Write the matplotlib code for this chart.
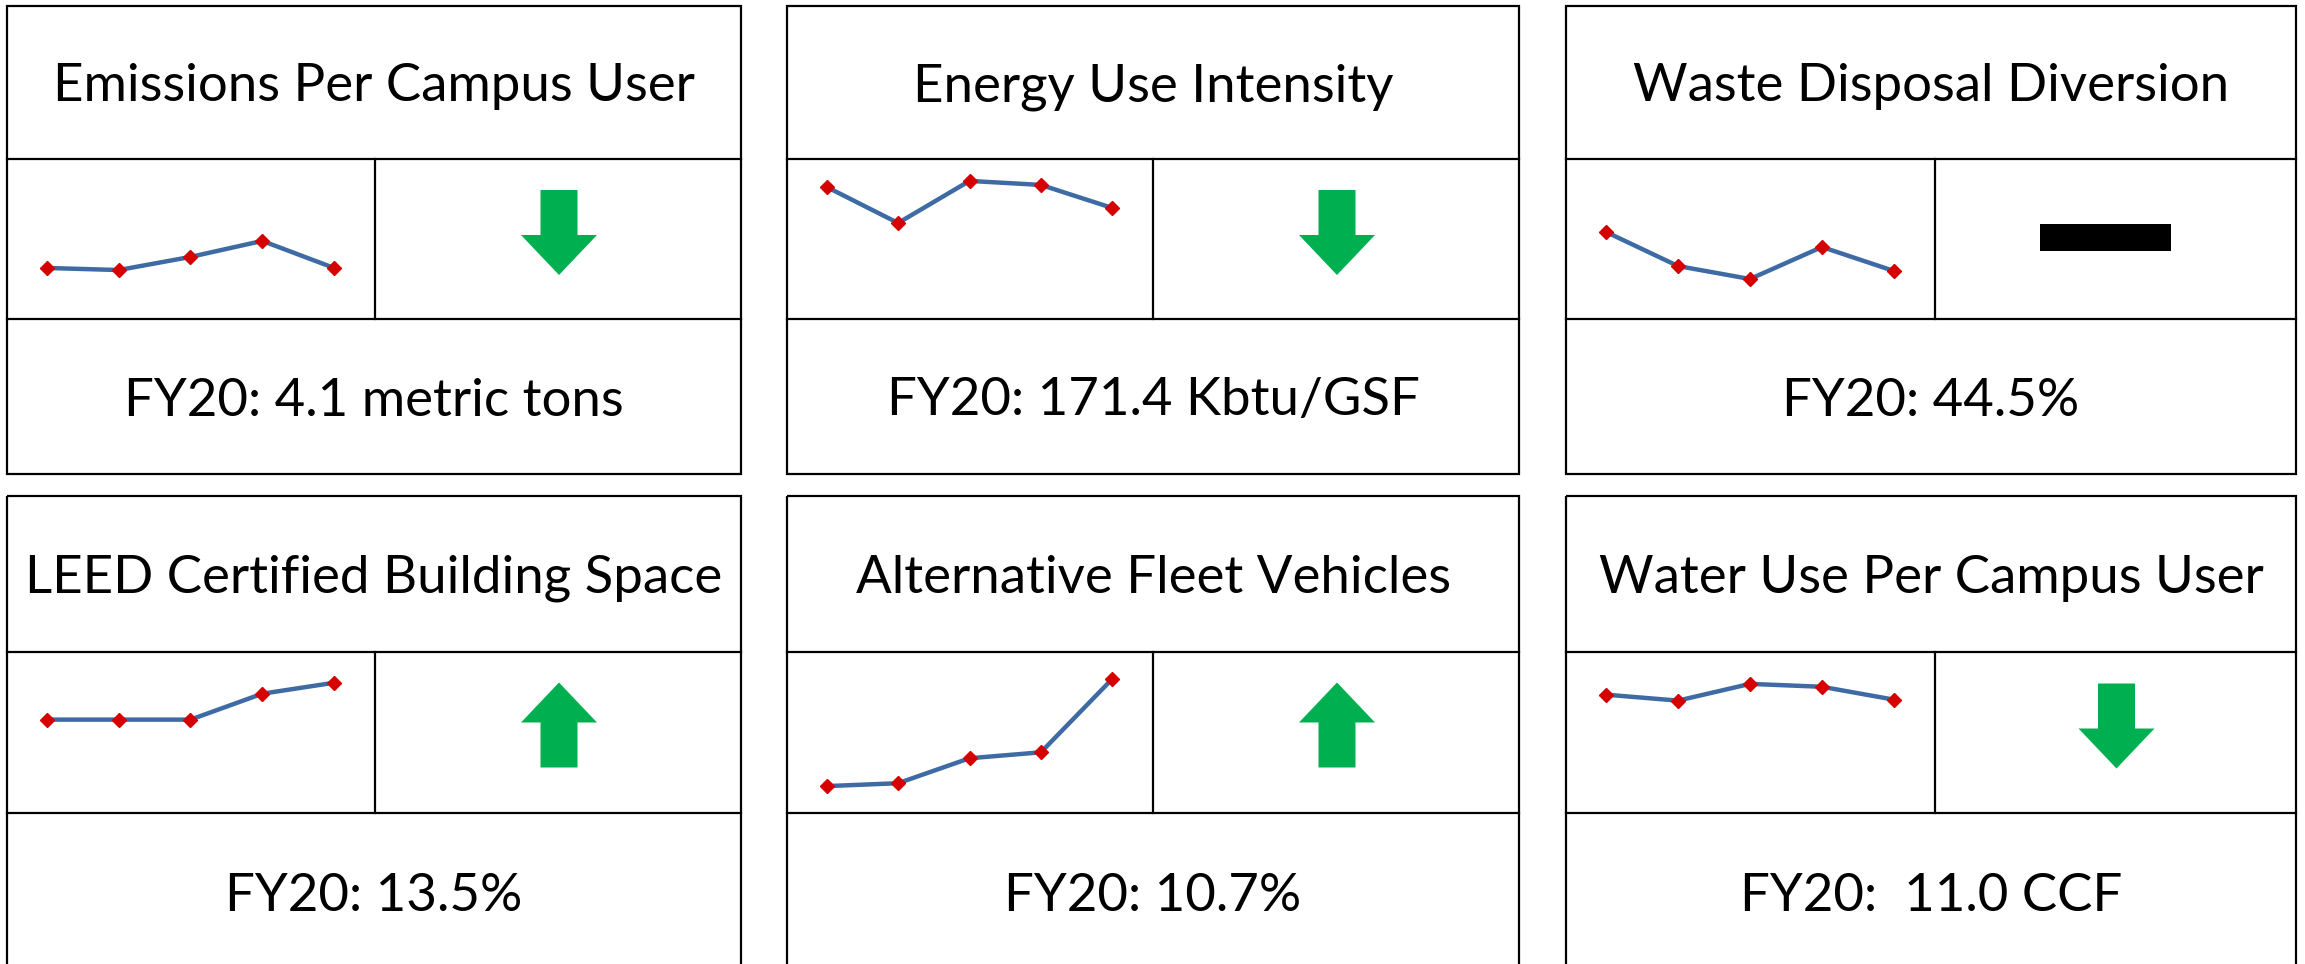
import matplotlib
matplotlib.use("Agg")
import matplotlib.pyplot as plt
from matplotlib.patches import Polygon, Rectangle

# ---- data ----
titles = ["Emissions Per Campus User", "Energy Use Intensity", "Waste Disposal Diversion",
          "LEED Certified Building Space", "Alternative Fleet Vehicles", "Water Use Per Campus User"]
fy20_labels = ["FY20: 4.1 metric tons", "FY20: 171.4 Kbtu/GSF", "FY20: 44.5%",
               "FY20: 13.5%", "FY20: 10.7%", "FY20:  11.0 CCF"]
years = ["FY16", "FY17", "FY18", "FY19", "FY20"]
# sparkline heights (relative position within the sparkline cell, 0-100)
emissions = [31.9, 30.6, 38.8, 48.8, 31.9]
energy = [82.5, 60.0, 86.3, 83.8, 69.4]
waste = [54.4, 33.1, 25.0, 45.0, 30.0]
leed = [58.0, 58.0, 58.0, 74.1, 80.9]
fleet = [16.7, 18.5, 34.0, 37.7, 83.3]
water = [73.5, 69.8, 80.2, 78.4, 70.4]
series = [emissions, energy, waste, leed, fleet, water]
trends = ["down", "down", "flat", "up", "up", "down"]

# ---- style ----
W, H = 2305, 964
DPI = 100
LINE_BLUE = "#3E6BA3"
MARK_RED = "#D50000"
GREEN = "#00B050"
FONT = ["Lato", "DejaVu Sans"]
FS = 38

col_edges = [(7, 375, 741), (787, 1153, 1519), (1566, 1935, 2296)]
row_edges = [(6, 159, 319, 474), (496, 652, 813, 971)]

fig = plt.figure(figsize=(W / DPI, H / DPI), dpi=DPI)
fig.patch.set_facecolor("white")
base = fig.add_axes([0, 0, 1, 1])
base.set_xlim(0, W)
base.set_ylim(H, 0)
base.axis("off")

lw = 1.6
for i in range(6):
    r, c = divmod(i, 3)
    x0, xm, x1 = col_edges[c]
    y0, y1, y2, y3 = row_edges[r]
    # borders
    base.add_patch(Rectangle((x0, y0), x1 - x0, y3 - y0, fill=False, ec="black", lw=lw))
    base.plot([x0, x1], [y1, y1], color="black", lw=lw)
    base.plot([x0, x1], [y2, y2], color="black", lw=lw)
    base.plot([xm, xm], [y1, y2], color="black", lw=lw)
    # texts
    cap = 19
    base.text((x0 + x1) / 2, (y0 + y1) / 2 + cap, titles[i], ha="center", va="baseline",
              fontsize=FS, family=FONT, color="black")
    base.text((x0 + x1) / 2, (y2 + y3) / 2 + cap, fy20_labels[i], ha="center", va="baseline",
              fontsize=FS, family=FONT, color="black")
    # sparkline axes
    ax = fig.add_axes([x0 / W, 1 - y2 / H, (xm - x0) / W, (y2 - y1) / H])
    ax.set_xlim(-0.556, 4.57)
    ax.set_ylim(0, 100)
    ax.axis("off")
    ax.patch.set_alpha(0)
    xs = list(range(len(years)))
    ax.plot(xs, series[i], color=LINE_BLUE, lw=3.2, solid_capstyle="round", zorder=2)
    ax.plot(xs, series[i], ls="none", marker="D", ms=7.5, mfc=MARK_RED, mec=MARK_RED, zorder=3)
    # trend indicator
    cx = (xm + x1) / 2 + 1
    cy = (y1 + y2) / 2
    t = trends[i]
    if t == "flat":
        base.add_patch(Rectangle((cx - 77, cy - 15), 131, 27, color="black", lw=0))
    else:
        hw, sw, L, hl = 38, 18.5, 85, 40
        if t == "down":
            top = cy - 49
            bot = top + L
            pts = [(cx - sw, top), (cx + sw, top), (cx + sw, bot - hl), (cx + hw, bot - hl),
                   (cx, bot), (cx - hw, bot - hl), (cx - sw, bot - hl)]
        else:
            tip = cy - 50
            bot = tip + L
            pts = [(cx, tip), (cx + hw, tip + hl), (cx + sw, tip + hl), (cx + sw, bot),
                   (cx - sw, bot), (cx - sw, tip + hl), (cx - hw, tip + hl)]
        base.add_patch(Polygon(pts, closed=True, color=GREEN, lw=0))

fig.savefig("out.png", dpi=DPI, facecolor="white")
